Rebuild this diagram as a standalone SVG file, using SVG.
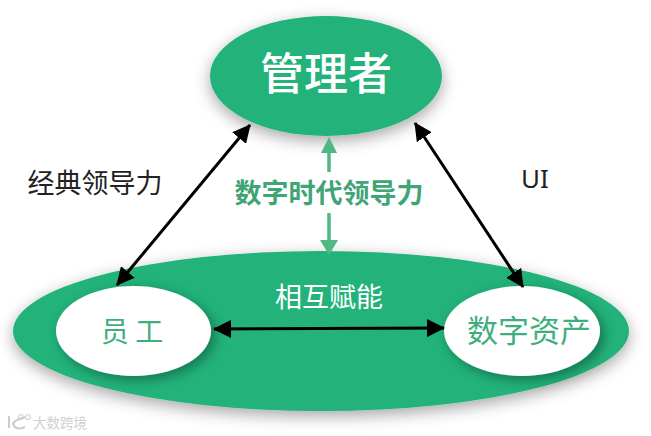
<svg xmlns="http://www.w3.org/2000/svg" width="651" height="436" viewBox="0 0 651 436">
<style>
text{font-family:"Noto Sans CJK SC","Liberation Sans",sans-serif;text-anchor:middle}
.g{fill:#20b27a}
.w{fill:#fff}
.blk{stroke:#000;stroke-width:3;fill:none;marker-start:url(#ab);marker-end:url(#ab)}
.lg{stroke:#4fb883;stroke-width:3.5;fill:none}
</style>
<defs>
<filter id="s" x="-20%" y="-30%" width="140%" height="170%"><feDropShadow dx="0" dy="5" stdDeviation="8" flood-color="#000" flood-opacity=".35"/></filter>
<filter id="s2" x="-20%" y="-30%" width="140%" height="170%"><feDropShadow dx="4" dy="4" stdDeviation="6" flood-color="#000" flood-opacity=".35"/></filter>
<marker id="ab" viewBox="0 0 18 18" refX="17" refY="9" markerWidth="18" markerHeight="18" markerUnits="userSpaceOnUse" orient="auto-start-reverse"><path d="M0 0L18 9L0 18z" fill="#000"/></marker>
</defs>
<g id="bottom"><ellipse class="g" cx="321" cy="331" rx="308" ry="80" filter="url(#s)"/><text x="329" y="307" font-size="27" fill="#fff">相互赋能</text></g>
<g id="manager"><ellipse class="g" cx="326" cy="76" rx="116" ry="60" filter="url(#s)"/><text x="326" y="90" font-size="44" font-weight="500" fill="#fff">管理者</text></g>
<g id="employee"><ellipse class="w" cx="133.500" cy="331" rx="77.500" ry="45" filter="url(#s2)"/><text x="132" y="342" font-size="28" fill="#3fae7d">员      工</text></g>
<g id="assets"><ellipse class="w" cx="522" cy="331" rx="78" ry="45" filter="url(#s2)"/><text x="529" y="342" font-size="31" fill="#3fae7d">数字资产</text></g>
<g id="connectors">
<line class="blk" x1="117" y1="285" x2="250" y2="125"/>
<line class="blk" x1="415" y1="123" x2="523" y2="287"/>
<line class="blk" x1="214" y1="329" x2="444" y2="328"/>
<path class="lg" d="M329 172V150M329 213V245"/>
<path d="M329 137L337 153H321z" fill="#4fb883"/>
<path d="M329 255L320 240H338z" fill="#4fb883"/>
</g>
<g id="labels">
<text x="95" y="193" font-size="27" fill="#222">经典领导力</text>
<text x="535" y="188" font-size="26" fill="#222" style="font-family:'Noto Sans','Liberation Sans',sans-serif">UI</text>
<text x="329" y="203" font-size="27" font-weight="700" fill="#3fa577">数字时代领导力</text>
</g>
<g id="watermark"><text x="33" y="428" font-size="13.500" fill="#d0d0d0" style="text-anchor:start">大数跨境</text>
<path d="M9 416V428M25 417Q14 420 13 424Q16 431 25 427" fill="none" stroke="#ccc" stroke-width="2"/><circle cx="21" cy="417" r="2.500" fill="none" stroke="#ccc"/><circle cx="28" cy="417" r="2.500" fill="none" stroke="#ccc"/></g>
</svg>
